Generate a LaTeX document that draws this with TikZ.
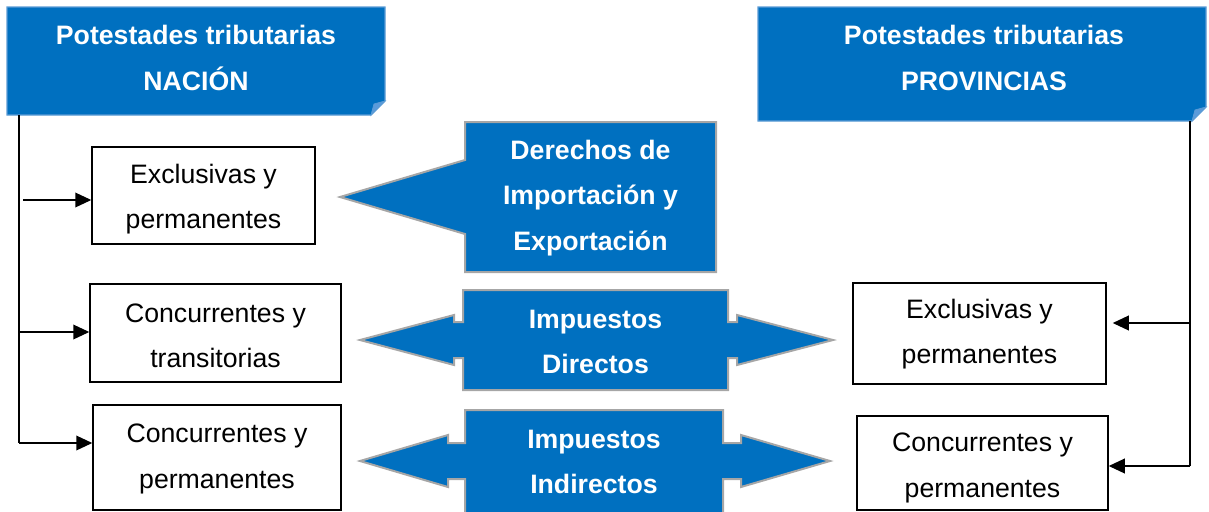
\documentclass[tikz,border=0pt]{standalone}
\usepackage{fontspec}
\setmainfont{Liberation Sans}
\usetikzlibrary{arrows.meta}
\newdimen\px \px=0.75pt
\definecolor{azul}{HTML}{0070C0}
\definecolor{hdrline}{HTML}{5B9BD5}
\definecolor{foldc}{HTML}{5A9BDB}
\definecolor{gris}{HTML}{A6A6A6}
\begin{document}
\begin{tikzpicture}[x=0.75pt,y=-0.75pt,
  wbox/.style={draw=black,line width=1.1pt,fill=white,inner sep=0pt},
  wtext/.style={align=center,inner sep=0pt,font=\fontsize{20}{34}\selectfont},
  btext/.style={text=white,align=center,font=\bfseries\fontsize{20}{34}\selectfont,inner sep=0pt},
  blueshape/.style={fill=azul,draw=gris,line width=1.5pt,line join=miter},
  hdr/.style={fill=azul,draw=hdrline,line width=0.8pt},
  foldst/.style={fill=foldc,draw=hdrline,line width=0.6pt},
  conn/.style={line width=1.1pt},
  arr/.style={conn,-{Triangle[length=12pt,width=11pt]}}]
\useasboundingbox (0,0) rectangle (1209,511);
\clip (0,0) rectangle (1209,511);

% headers
\path[hdr] (7,7) -- (385,7) -- (385,101) -- (371,115) -- (7,115) -- cycle;
\path[foldst] (385,101) -- (371,115) -- (374,104) -- cycle;
\node[btext] (nacion) at (196,58) {Potestades tributarias\\NACIÓN};

\path[hdr] (758,7) -- (1206,7) -- (1206,107) -- (1192,121) -- (758,121) -- cycle;
\path[foldst] (1206,107) -- (1192,121) -- (1195,110) -- cycle;
\node[btext] (prov) at (984,58) {Potestades tributarias\\PROVINCIAS};

% blue shapes
\path[blueshape] (465,122) -- (716,122) -- (716,272) -- (465,272) -- (465,234) -- (340,197) -- (465,160) -- cycle;
\node[btext] (derechos) at (590.5,198) {Derechos de\\Importación y\\Exportación};

\path[blueshape] (463,290) -- (728,290) -- (728,322) -- (737,322) -- (737,315) -- (833,340) -- (737,365) -- (737,358) -- (728,358) -- (728,390) -- (463,390) -- (463,358) -- (454,358) -- (454,365) -- (360,340) -- (454,315) -- (454,322) -- (463,322) -- cycle;
\node[btext] (directos) at (595.5,342) {Impuestos\\Directos};

\path[blueshape] (465,410) -- (723,410) -- (723,443) -- (741,443) -- (741,435) -- (830,461) -- (741,487) -- (741,479) -- (723,479) -- (723,530) -- (465,530) -- (465,479) -- (448,479) -- (448,487) -- (360,461) -- (448,435) -- (448,443) -- (465,443) -- cycle;
\node[btext] (indirectos) at (594,462) {Impuestos\\Indirectos};

% white boxes
\node[wbox,minimum width=223\px,minimum height=97\px] (n1) at (203.5,195.5) {};
\node[wtext] (n1t) at (203.5,199) {Exclusivas y\\permanentes};
\node[wbox,minimum width=251\px,minimum height=98\px] (n2) at (215.5,333) {};
\node[wtext] (n2t) at (215.5,336) {Concurrentes y\\transitorias};
\node[wbox,minimum width=248\px,minimum height=105\px] (n3) at (217,457.5) {};
\node[wtext] (n3t) at (217,459) {Concurrentes y\\permanentes};
\node[wbox,minimum width=253\px,minimum height=101\px] (p1) at (979.5,333.5) {};
\node[wtext] (p1t) at (979.5,334) {Exclusivas y\\permanentes};
\node[wbox,minimum width=251\px,minimum height=94\px] (p2) at (982.5,463) {};
\node[wtext] (p2t) at (982.5,468) {Concurrentes y\\permanentes};

% connectors
\coordinate (lv) at (19,115);
\coordinate (lb1) at (23,200);
\coordinate (lb2) at (19,332);
\coordinate (lb3) at (19,443);
\draw[conn] (lv) -- (lb3);
\draw[arr] (lb1) -- (lb1 -| n1.west);
\draw[arr] (lb2) -- (lb2 -| n2.west);
\draw[arr] (lb3) -- (lb3 -| n3.west);

\coordinate (rv) at (1190,121);
\coordinate (rb1) at (1190,323);
\coordinate (rb2) at (1190,466);
\draw[conn] (rv) -- (rb2);
\draw[arr] (rb1) -- ([xshift=6\px]rb1 -| p1.east);
\draw[arr] (rb2) -- (rb2 -| p2.east);
\end{tikzpicture}
\end{document}
